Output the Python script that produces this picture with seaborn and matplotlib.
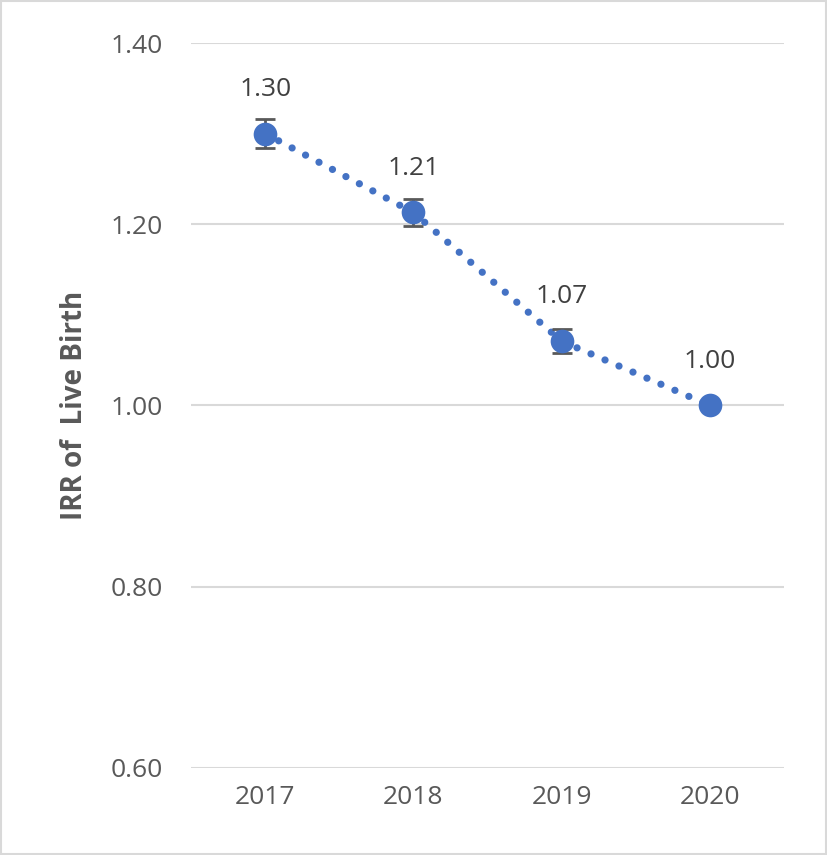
import matplotlib
matplotlib.use("Agg")
import matplotlib.pyplot as plt
import seaborn as sns
import pandas as pd
import numpy as np

years = ["2017", "2018", "2019", "2020"]
irr = [1.30, 1.213, 1.071, 1.00]
err = [0.016, 0.015, 0.0135, 0.0]
labels = ["1.30", "1.21", "1.07", "1.00"]
yticks = [0.60, 0.80, 1.00, 1.20, 1.40]

df = pd.DataFrame({"year": years, "irr": irr, "err": err})

sns.set_style("white")
plt.rcParams['font.family'] = ['Open Sans', 'DejaVu Sans']

fig = plt.figure(figsize=(8.27, 8.55), dpi=100)
ax = fig.add_axes([0.231, 0.1018, 0.717, 0.8479])

blue = "#4472C4"
x = np.arange(len(years))
sns.lineplot(x=x, y=df["irr"], ax=ax, color=blue, linewidth=5.2,
             linestyle=(0, (0.01, 2.1)))
for line in ax.get_lines():
    line.set_dash_capstyle("round")
ax.errorbar(x, df["irr"], yerr=df["err"], fmt="none", ecolor="#595959",
            elinewidth=2, capsize=7, capthick=2, zorder=3)
sns.scatterplot(x=x, y=df["irr"], ax=ax, color=blue, s=290, edgecolor=blue,
                linewidth=0, zorder=4)

for xi, yi, lab in zip(x, irr, labels):
    ax.annotate(lab, (xi, yi), xytext=(0, 23), textcoords="offset points",
                ha="center", va="bottom", fontsize=19, color="#404040")

ax.set_xlim(-0.5, 3.5)
ax.set_ylim(0.60, 1.40)
ax.set_xticks(x)
ax.set_xticklabels(years)
ax.set_yticks(yticks)
ax.set_yticklabels([f"{t:.2f}" for t in yticks])
ax.tick_params(axis="both", labelsize=19, labelcolor="#595959", length=0)
ax.tick_params(axis="x", pad=12)
ax.tick_params(axis="y", pad=20)
ax.grid(axis="y", color="#D9D9D9", linewidth=1.5)
ax.set_axisbelow(True)
for s in ax.spines.values():
    s.set_visible(False)
ax.set_xlabel("")
ax.set_ylabel("IRR of  Live Birth", fontsize=20, fontweight="bold", color="#595959", labelpad=16)

border = plt.Rectangle((0.001, 0.001), 0.998, 0.998, transform=fig.transFigure,
                       fill=False, edgecolor="#D9D9D9", linewidth=1.5)
fig.patches.append(border)

fig.savefig("out.png", dpi=100)
